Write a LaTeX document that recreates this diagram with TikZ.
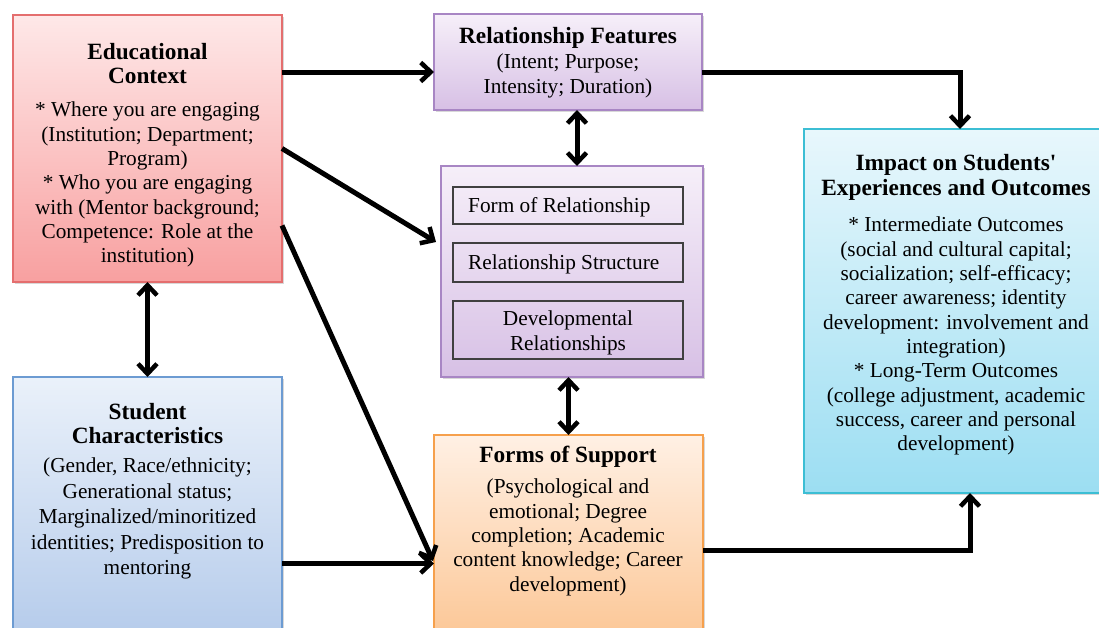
\documentclass[tikz,border=0pt]{standalone}
\usepackage{fontspec}
\setmainfont{Liberation Serif}
\newfontfamily\plainserif{Liberation Serif}
\usetikzlibrary{arrows.meta,shadows}
\definecolor{ecTop}{RGB}{254,232,232}
\definecolor{ecBot}{RGB}{248,160,160}
\definecolor{ecLine}{RGB}{228,110,110}
\definecolor{scTop}{RGB}{234,241,250}
\definecolor{scBot}{RGB}{182,204,235}
\definecolor{scLine}{RGB}{108,155,210}
\definecolor{rfTop}{RGB}{246,239,249}
\definecolor{rfBot}{RGB}{215,192,229}
\definecolor{rfLine}{RGB}{168,134,196}
\definecolor{fsTop}{RGB}{255,240,228}
\definecolor{fsBot}{RGB}{252,200,152}
\definecolor{fsLine}{RGB}{246,160,76}
\definecolor{imTop}{RGB}{232,247,252}
\definecolor{imBot}{RGB}{156,222,242}
\definecolor{imLine}{RGB}{60,190,212}
\tikzset{
  box/.style={draw, line width=1.3pt, rectangle, inner sep=0pt, outer sep=0pt,
    anchor=north west,
    drop shadow={opacity=0.3, shadow xshift=2pt, shadow yshift=-2pt}},
  innerbox/.style={draw=black!75, line width=1.5pt, rectangle, inner sep=0pt, outer sep=0pt,
    anchor=north west, minimum width=230pt},
  ttl/.style={font=\fontsize{23.3}{24}\selectfont\bfseries, align=center, inner sep=0pt, anchor=north},
  body/.style={font=\fontsize{21.3}{24.3}\selectfont, align=center, inner sep=0pt, anchor=north},
  barb/.tip={Straight Barb[length=10pt,width=19pt,line width=4.5pt]},
  conn/.style={line width=5pt, -barb},
  dconn/.style={line width=5pt, barb-barb},
}
\begin{document}
\begin{tikzpicture}[x=1pt,y=-1pt]
\clip (0,0) rectangle (1099,627);
\fill[white] (0,0) rectangle (1099,627);
% boxes
\node[box, draw=ecLine, top color=ecTop, bottom color=ecBot, minimum width=269pt, minimum height=267pt] (ec) at (13,15) {};
\node[box, draw=scLine, top color=scTop, bottom color=scBot, minimum width=269pt, minimum height=256pt] (sc) at (13,377) {};
\node[box, draw=rfLine, top color=rfTop, bottom color=rfBot, minimum width=268pt, minimum height=96pt] (rf) at (434,14) {};
\node[box, draw=rfLine, top color=rfTop, bottom color=rfBot, minimum width=262pt, minimum height=211pt] (mid) at (441,166) {};
\node[box, draw=fsLine, top color=fsTop, bottom color=fsBot, minimum width=269pt, minimum height=198pt] (fs) at (434,435) {};
\node[box, draw=imLine, top color=imTop, bottom color=imBot, minimum width=304pt, minimum height=364pt] (im) at (804,129) {};
% inner boxes
\node[innerbox, minimum height=37pt] (form) at (453,187) {};
\node[innerbox, minimum height=39pt] (struct) at (453,243) {};
\node[innerbox, minimum height=58pt] (dev) at (453,301) {};
% texts
\node[ttl] (ecT) at (147.5,43) {Educational\\Context};
\node[body] (ecB) at (147.5,102) {* Where you are engaging\\(Institution; Department;\\Program)\\* Who you are engaging\\with (Mentor background;\\Competence: Role at the\\institution)};
\node[ttl] (scT) at (147.5,403) {Student\\Characteristics};
\node[body, font=\fontsize{21.3}{25.5}\selectfont] (scB) at (147.5,458) {(Gender, Race/ethnicity;\\Generational status;\\Marginalized/minoritized\\identities; Predisposition to\\mentoring};
\node[ttl] (rfT) at (568,27) {Relationship Features};
\node[body] (rfB) at (568,54) {(Intent; Purpose;\\Intensity; Duration)};
\node[body, anchor=west] (formT) at (468,207) {Form of Relationship};
\node[body, anchor=west] (structT) at (468,264) {Relationship Structure};
\node[body, anchor=center] (devT) at (568,333) {Developmental\\Relationships};
\node[ttl] (fsT) at (568,446) {Forms of Support};
\node[body] (fsB) at (568,479) {(Psychological and\\emotional; Degree\\completion; Academic\\content knowledge; Career\\development)};
\node[ttl, font=\fontsize{23.3}{25}\selectfont\bfseries] (imT) at (956,154) {Impact on Students{\plainserif\bfseries '}\\Experiences and Outcomes};
\node[body] (imB) at (956,217) {* Intermediate Outcomes\\(social and cultural capital;\\socialization; self-efficacy;\\career awareness; identity\\development: involvement and\\integration)\\* Long-Term Outcomes\\(college adjustment, academic\\success, career and personal\\development)};
% connectors
\coordinate (a1) at ([yshift=-57pt]ec.north east);
\draw[conn] (a1) -- (a1 -| rf.west);
\draw[conn] (ec.east) -- ([shift={(-5pt,29.5pt)}]mid.west);
\draw[conn] ([yshift=-77pt]ec.east) -- ([shift={(-1pt,-27pt)}]fs.west);
\draw[dconn] (ec.south) -- (sc.north);
\coordinate (a5) at ([yshift=-58.5pt]sc.east);
\draw[conn] (a5) -- (a5 -| fs.west);
\draw[dconn] ([xshift=9pt]rf.south) -- ([xshift=9pt]rf.south |- mid.north);
\draw[dconn] (fs.north |- mid.south) -- (fs.north);
\draw[conn] ([yshift=-10pt]rf.east) -| ([xshift=4pt]im.north);
\draw[conn] ([yshift=-16.5pt]fs.east) -| ([xshift=14pt]im.south);
\end{tikzpicture}
\end{document}
